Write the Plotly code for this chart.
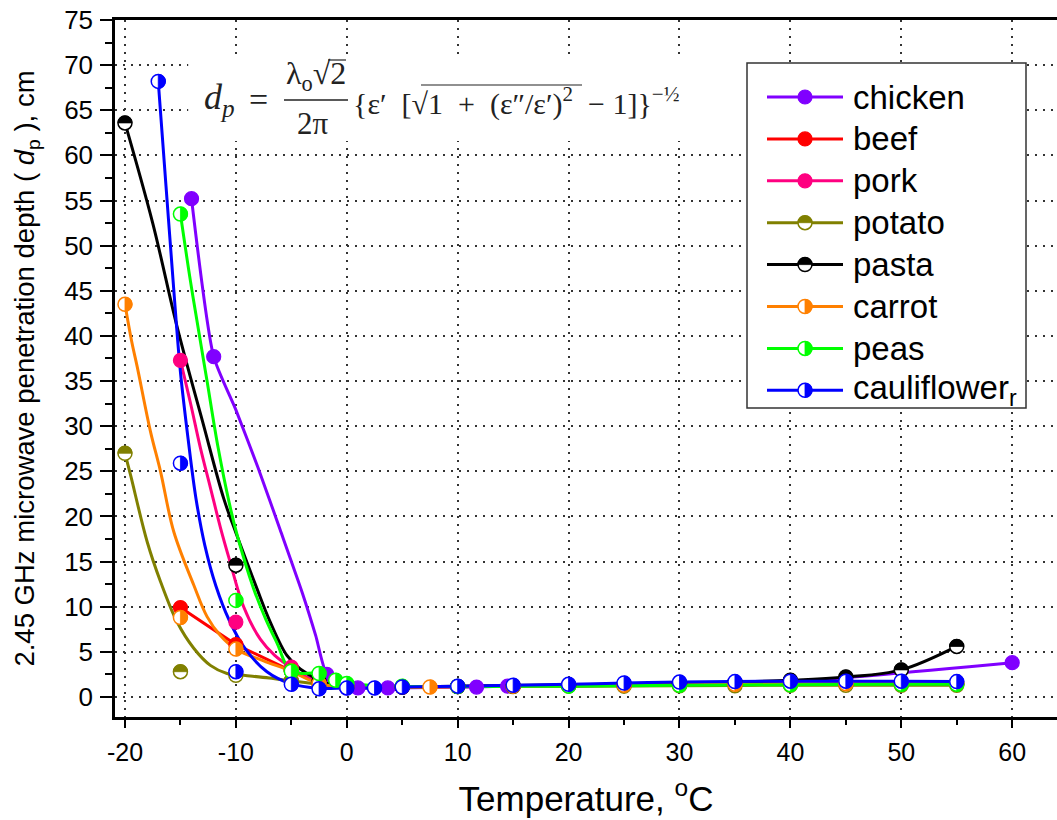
import plotly.graph_objects as go

# ---------------- data ----------------
# marker points
chicken_x = [-14, -12, -1.8, 0, 1, 3.7, 11.7, 14.5, 25, 40, 60]
chicken_y = [55.2, 37.7, 2.5, 1.0, 1.0, 1.0, 1.1, 1.2, 1.4, 1.7, 3.8]
beef_x = [-15, -10, -5, -2.5, 0, 5, 10, 15, 20, 25, 30, 35, 40, 45, 50, 55]
beef_y = [9.9, 5.8, 2.9, 1.5, 1.1, 1.1, 1.15, 1.2, 1.25, 1.3, 1.35, 1.4, 1.4, 1.45, 1.45, 1.45]
pork_x = [-15, -10, -5, 0, 5, 10, 20, 30, 40, 50, 55]
pork_y = [37.3, 8.3, 3.3, 1.1, 1.1, 1.15, 1.25, 1.35, 1.4, 1.45, 1.45]
potato_x = [-20, -15, -10, -5, -2.5, 0, 5, 10, 15, 20, 25, 30, 35, 40, 45, 50, 55]
potato_y = [27.0, 2.8, 2.4, 1.8, 1.4, 1.1, 1.1, 1.15, 1.15, 1.2, 1.2, 1.25, 1.25, 1.3, 1.3, 1.3, 1.3]
pasta_x = [-20, -10, -5, -2.5, 0, 5, 10, 15, 20, 25, 30, 35, 40, 45, 50, 55]
pasta_y = [63.6, 14.6, 2.9, 1.7, 1.1, 1.1, 1.15, 1.2, 1.3, 1.4, 1.5, 1.6, 1.85, 2.2, 3.0, 5.6]
carrot_x = [-20, -15, -10, -5, -2.5, 0, 7.5, 15, 25, 35, 45, 55]
carrot_y = [43.5, 8.8, 5.3, 2.9, 1.5, 1.1, 1.1, 1.2, 1.3, 1.4, 1.45, 1.5]
peas_x = [-15, -10, -5, -2.5, -1, 0, 5, 10, 20, 30, 40, 50, 55]
peas_y = [53.5, 10.7, 2.85, 2.6, 1.85, 1.5, 1.2, 1.15, 1.2, 1.3, 1.35, 1.4, 1.4]
cauli_x = [-17, -15, -10, -5, -2.5, 0, 2.5, 5, 10, 15, 20, 25, 30, 35, 40, 45, 50, 55]
cauli_y = [68.2, 25.9, 2.8, 1.4, 0.9, 1.0, 1.0, 1.1, 1.2, 1.3, 1.4, 1.55, 1.65, 1.7, 1.75, 1.75, 1.75, 1.7]

# smoothed curves as drawn
chicken_cx = [-14, -12, -10, -8, -6, -4, -2.8, -1.8, 0, 1, 3.7, 11.7, 14.5, 25, 40, 60]
chicken_cy = [55.2, 37.7, 31.8, 25.4, 18.5, 11.5, 6.8, 2.5, 1.0, 1.0, 1.0, 1.1, 1.2, 1.4, 1.7, 3.8]
pork_cx = [-15, -14.1, -13.2, -12.3, -11.4, -10.6, -9.3, -7.8, -6.5, -5.2, -3.6, -2, 0, 5, 10, 20, 30, 40, 50, 55]
pork_cy = [37.3, 32.6, 27.6, 23.2, 18.8, 15.3, 10.0, 6.4, 4.6, 3.4, 2.2, 1.5, 1.1, 1.1, 1.15, 1.25, 1.35, 1.4, 1.45, 1.45]
potato_cx = [-20, -19.5, -18.0, -16.8, -15.3, -13.8, -12.3, -10.8, -9.3, -7, -5.1, -2.5, 0, 5, 10, 20, 30, 40, 50, 55]
potato_cy = [27.0, 24.6, 17.2, 12.8, 8.3, 5.4, 3.5, 2.6, 2.4, 2.1, 1.8, 1.4, 1.1, 1.1, 1.15, 1.2, 1.25, 1.3, 1.3, 1.3]
pasta_cx = [-20, -17.5, -15.3, -13, -11.1, -10, -8.1, -6.9, -5.4, -4.2, -2.5, 0, 5, 10, 20, 30, 40, 45, 50, 55]
pasta_cy = [63.6, 52.5, 41.0, 30.5, 22.0, 18.2, 12.0, 8.3, 4.6, 3.1, 1.9, 1.1, 1.1, 1.2, 1.35, 1.5, 1.85, 2.2, 3.0, 5.6]
carrot_cx = [-20, -19.4, -18.9, -17.7, -16.8, -15.6, -13.8, -12.6, -11.4, -10, -7.5, -5.1, -2.6, 0, 7.5, 15, 25, 35, 45, 55]
carrot_cy = [43.5, 39.4, 36.6, 29.4, 25.0, 18.3, 12.4, 8.9, 6.8, 5.3, 4.0, 2.9, 1.5, 1.1, 1.1, 1.2, 1.3, 1.4, 1.45, 1.5]
peas_cx = [-15, -14.1, -13.2, -12.6, -11.6, -10.6, -9.9, -8.4, -7.3, -6.3, -5, -2.5, -1, 0, 5, 10, 20, 30, 40, 50, 55]
peas_cy = [53.5, 46.1, 39.4, 35.0, 27.6, 21.5, 18.0, 12.0, 8.6, 6.0, 2.85, 2.6, 1.85, 1.5, 1.2, 1.15, 1.2, 1.3, 1.35, 1.4, 1.4]
cauli_cx = [-17, -16.3, -15.6, -15.0, -14.3, -13.6, -12.8, -11.8, -10.6, -9.2, -7.2, -5.1, -2.5, 0, 2.5, 5, 10, 15, 20, 25, 30, 35, 40, 45, 50, 55]
cauli_cy = [68.2, 56.6, 45.1, 36.0, 28.5, 22.0, 16.8, 12.3, 8.5, 5.4, 2.8, 1.5, 0.95, 1.0, 1.0, 1.1, 1.2, 1.3, 1.4, 1.55, 1.65, 1.7, 1.75, 1.75, 1.75, 1.7]

names = ["chicken", "beef", "pork", "potato", "pasta", "carrot", "peas", "cauliflower"]
colors = ["#8000FF", "#FF0000", "#FF0080", "#808000", "#000000", "#FF8000", "#00FF00", "#0000FF"]
fills = ["full", "full", "full", "top", "top", "right", "right", "right"]

x_ticks = [-20, -10, 0, 10, 20, 30, 40, 50, 60]
x_tick_labels = ["-20", "-10", "0", "10", "20", "30", "40", "50", "60"]
y_ticks = list(range(0, 80, 5))
y_tick_labels = [str(v) for v in y_ticks]

# ---------------- figure ----------------
W, H = 1057, 820
ML, MR, MT, MB = 115, 0, 20, 103
PW, PH = W - ML - MR, H - MT - MB

markers = [(chicken_x, chicken_y), (beef_x, beef_y), (pork_x, pork_y), (potato_x, potato_y),
           (pasta_x, pasta_y), (carrot_x, carrot_y), (peas_x, peas_y), (cauli_x, cauli_y)]
curves = [(chicken_cx, chicken_cy, "spline", 0.6), (beef_x, beef_y, "linear", 0),
          (pork_cx, pork_cy, "spline", 1.0), (potato_cx, potato_cy, "spline", 1.0),
          (pasta_cx, pasta_cy, "spline", 1.0), (carrot_cx, carrot_cy, "spline", 1.0),
          (peas_cx, peas_cy, "spline", 1.0), (cauli_cx, cauli_cy, "spline", 1.0)]

fig = go.Figure()
for name, col, (cx, cy, shp, sm), (mx, my) in zip(names, colors, curves, markers):
    line = dict(color=col, width=3, shape=shp)
    if shp == "spline":
        line["smoothing"] = sm
    fig.add_trace(go.Scatter(x=cx, y=cy, mode="lines", name=name, line=line,
                             showlegend=False, hoverinfo="skip"))
    fig.add_trace(go.Scatter(x=mx, y=my, mode="markers", name=name, showlegend=False,
                             marker=dict(size=14, color="rgba(0,0,0,0)"),
                             hovertemplate=name + ": %{x}, %{y}<extra></extra>"))

R = 7.0


def circle_path(r):
    k = 0.5523 * r
    return (f"M {r},0 C {r},{k} {k},{r} 0,{r} C {-k},{r} {-r},{k} {-r},0 "
            f"C {-r},{-k} {-k},{-r} 0,{-r} C {k},{-r} {r},{-k} {r},0 Z")


def half_path(r, side):
    k = 0.5523 * r
    if side == "right":
        return f"M 0,{r} C {k},{r} {r},{k} {r},0 C {r},{-k} {k},{-r} 0,{-r} Z"
    return f"M {-r},0 C {-r},{k} {-k},{r} 0,{r} C {k},{r} {r},{k} {r},0 Z"


def marker_shapes(x, y, col, fill, xref, yref):
    out = []
    base = dict(type="path", xref=xref, yref=yref, xsizemode="pixel", ysizemode="pixel",
                xanchor=x, yanchor=y, layer="above")
    if fill == "full":
        out.append(dict(base, path=circle_path(R), fillcolor=col, line=dict(color=col, width=1.2)))
    else:
        out.append(dict(base, path=circle_path(R), fillcolor="white", line=dict(color=col, width=1.5)))
        out.append(dict(base, path=half_path(R, fill), fillcolor=col, line=dict(color=col, width=0.8)))
    return out


shapes = []
# white background of the formula picture (covers the grid)
shapes.append(dict(type="rect", xref="x", yref="y", x0=-14.3, x1=35.8, y0=61.6, y1=70.9,
                   fillcolor="white", line=dict(width=0), layer="between"))
for (mx, my), col, fill in zip(markers, colors, fills):
    for xv, yv in zip(mx, my):
        shapes += marker_shapes(xv, yv, col, fill, "x", "y")


def px2paper_x(px):
    return (px - ML) / PW


def px2paper_y(py):
    return (H - MB - py) / PH


# legend (drawn by hand so that the half-filled symbols can be shown)
shapes.append(dict(type="rect", xref="paper", yref="paper",
                   x0=px2paper_x(747), x1=px2paper_x(1026), y0=px2paper_y(408), y1=px2paper_y(63),
                   fillcolor="white", line=dict(color="#333333", width=1.5), layer="above"))
annotations = []
for i, (name, col, fill) in enumerate(zip(names, colors, fills)):
    py = 97 + i * 41.9
    shapes.append(dict(type="line", xref="paper", yref="paper", x0=px2paper_x(767), x1=px2paper_x(843),
                       y0=px2paper_y(py), y1=px2paper_y(py), line=dict(color=col, width=3), layer="above"))
    shapes += marker_shapes(px2paper_x(805), px2paper_y(py), col, fill, "paper", "paper")
    label = "cauliflower<sub>r</sub>" if name == "cauliflower" else name
    annotations.append(dict(xref="paper", yref="paper", x=px2paper_x(851), y=px2paper_y(py),
                            xanchor="left", yanchor="middle", showarrow=False, text=label,
                            font=dict(family="Liberation Sans, Arial", size=33, color="black")))

# formula
ff = "Liberation Serif, DejaVu Serif, serif"
annotations += [
    dict(xref="paper", yref="paper", x=px2paper_x(219), y=px2paper_y(100), text="<i>d<sub>p</sub></i>",
         showarrow=False, font=dict(family=ff, size=36, color="#222"), xanchor="center", yanchor="middle"),
    dict(xref="paper", yref="paper", x=px2paper_x(258), y=px2paper_y(99), text="=",
         showarrow=False, font=dict(family=ff, size=34, color="#222"), xanchor="center", yanchor="middle"),
    dict(xref="paper", yref="paper", x=px2paper_x(316), y=px2paper_y(76), text="λ<sub>o</sub>√2",
         showarrow=False, font=dict(family=ff, size=32, color="#222"), xanchor="center", yanchor="middle"),
    dict(xref="paper", yref="paper", x=px2paper_x(313), y=px2paper_y(123), text="2π",
         showarrow=False, font=dict(family=ff, size=31, color="#222"), xanchor="center", yanchor="middle"),
    dict(xref="paper", yref="paper", x=px2paper_x(351), y=px2paper_y(101),
         text="{ε′  [√1  +  (ε″/ε′)<sup>2</sup>  − 1]}<sup>−½</sup>",
         showarrow=False, font=dict(family=ff, size=30, color="#222"), xanchor="left", yanchor="middle"),
]
# fraction bar and square-root bars of the formula
shapes.append(dict(type="line", xref="paper", yref="paper", x0=px2paper_x(284), x1=px2paper_x(348),
                   y0=px2paper_y(100), y1=px2paper_y(100), line=dict(color="#222", width=1.5), layer="above"))
shapes.append(dict(type="line", xref="paper", yref="paper", x0=px2paper_x(421), x1=px2paper_x(582),
                   y0=px2paper_y(85), y1=px2paper_y(85), line=dict(color="#222", width=1.2), layer="above"))
shapes.append(dict(type="line", xref="paper", yref="paper", x0=px2paper_x(328), x1=px2paper_x(346),
                   y0=px2paper_y(60), y1=px2paper_y(60), line=dict(color="#222", width=1.2), layer="above"))

fig.update_layout(
    width=W, height=H,
    margin=dict(l=ML, r=MR, t=MT, b=MB, pad=0),
    paper_bgcolor="white", plot_bgcolor="white",
    shapes=shapes, annotations=annotations,
    showlegend=False,
    font=dict(family="Liberation Sans, Arial", color="black"),
)
fig.update_xaxes(
    range=[-20.9, 64.04], tickvals=x_ticks, ticktext=x_tick_labels,
    tickfont=dict(size=25, family="Liberation Sans, Arial"),
    ticks="outside", ticklen=8, tickwidth=2, tickcolor="black", ticklabelstandoff=3,
    minor=dict(dtick=5, tick0=-20, ticks="outside", ticklen=5, tickwidth=2, tickcolor="black", showgrid=False),
    showline=True, linecolor="black", linewidth=2.5, mirror=True,
    showgrid=True, gridcolor="#333333", gridwidth=1.5, griddash="2px,6px", zeroline=False,
    title=dict(text="Temperature, <sup>o</sup>C", font=dict(size=35, family="Liberation Sans, Arial"), standoff=22),
)
fig.update_yaxes(
    range=[-2.22, 75], tickvals=y_ticks, ticktext=y_tick_labels,
    tickfont=dict(size=26, family="Liberation Sans, Arial"),
    ticks="outside", ticklen=12, tickwidth=2, tickcolor="black", ticklabelstandoff=2,
    minor=dict(dtick=2.5, tick0=0, ticks="outside", ticklen=7, tickwidth=2, tickcolor="black", showgrid=False),
    showline=True, linecolor="black", linewidth=2.5, mirror=False,
    showgrid=True, gridcolor="#333333", gridwidth=1.5, griddash="2px,6px", zeroline=False,
    title=dict(text="2.45 GHz microwave penetration depth ( <i>d</i><sub>p</sub> ), cm",
               font=dict(size=27.5, family="Liberation Sans Narrow, Liberation Sans, Arial"), standoff=22),
)

fig.write_html("out.html")
